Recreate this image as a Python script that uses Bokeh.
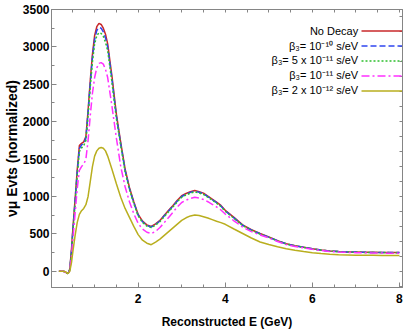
from bokeh.plotting import figure
from bokeh.models import (Range1d, LinearAxis, SingleIntervalTicker, Label,
                          Legend, LegendItem, CustomJSTickFormatter)
from bokeh.embed import file_html
from bokeh.resources import INLINE

# ---------------- data ----------------
energy = [0.18, 0.28, 0.33, 0.37, 0.40, 0.43, 0.47, 0.50, 0.55, 0.60,
          0.65, 0.70, 0.75, 0.80, 0.85, 0.90, 0.95, 1.00, 1.05, 1.10,
          1.15, 1.20, 1.25, 1.30, 1.40, 1.50, 1.60, 1.70, 1.80, 1.90,
          2.00, 2.10, 2.20, 2.30, 2.40, 2.50, 2.60, 2.70, 2.80, 2.90,
          3.00, 3.10, 3.20, 3.30, 3.40, 3.50, 3.60, 3.70, 3.80, 3.90,
          4.00, 4.20, 4.40, 4.60, 4.80, 5.00, 5.20, 5.40, 5.60, 5.80,
          6.00, 6.20, 6.40, 6.60, 6.80, 7.00, 7.20, 7.40, 7.60, 7.80,
          8.00]

no_decay = [0, 0, -10, -30, -20, 30, 300, 560, 950, 1350,
            1680, 1710, 1730, 1800, 2150, 2550, 2900, 3150, 3270, 3315,
            3300, 3250, 3170, 3040, 2600, 2100, 1720, 1370, 1120, 930,
            760, 670, 620, 600, 635, 680, 750, 815, 880, 950,
            1010, 1040, 1065, 1080, 1065, 1045, 1005, 965, 925, 880,
            815, 720, 620, 555, 505, 460, 410, 368, 342, 322,
            302, 285, 272, 264, 259, 257, 254, 253, 252, 251,
            250]

beta_1e10 = [0, 0, -10, -30, -20, 25, 280, 540, 930, 1320,
             1640, 1690, 1710, 1780, 2120, 2510, 2860, 3100, 3220, 3260,
             3250, 3200, 3120, 3000, 2560, 2070, 1700, 1350, 1105, 918,
             750, 662, 612, 592, 626, 672, 742, 806, 870, 940,
             1000, 1030, 1055, 1070, 1056, 1036, 997, 957, 917, 872,
             808, 713, 615, 551, 501, 456, 407, 366, 340, 320,
             300, 284, 271, 263, 258, 256, 253, 252, 251, 250,
             250]

beta_5e11 = [0, 0, -10, -30, -20, 20, 260, 520, 900, 1280,
             1600, 1650, 1680, 1750, 2080, 2460, 2800, 3040, 3150, 3190,
             3180, 3140, 3060, 2950, 2520, 2040, 1680, 1330, 1092, 906,
             740, 654, 604, 585, 617, 664, 733, 797, 861, 930,
             990, 1020, 1045, 1060, 1047, 1027, 990, 950, 910, 866,
             802, 708, 611, 548, 499, 454, 405, 365, 339, 319,
             299, 283, 270, 262, 257, 255, 252, 251, 250, 249,
             249]

beta_1e11 = [0, 0, -10, -30, -25, 10, 200, 420, 760, 1100,
             1350, 1400, 1430, 1500, 1750, 2080, 2380, 2590, 2720, 2780,
             2790, 2770, 2700, 2590, 2200, 1780, 1400, 1130, 930, 770,
             640, 565, 522, 505, 532, 585, 650, 720, 790, 860,
             920, 950, 975, 990, 978, 960, 930, 895, 860, 820,
             765, 675, 590, 530, 485, 445, 398, 358, 332, 312,
             293, 278, 265, 257, 252, 249, 246, 244, 243, 242,
             241]

beta_2e12 = [0, 0, -5, -25, -25, 0, 120, 260, 470, 650,
             760, 810, 840, 890, 1000, 1200, 1400, 1540, 1610, 1645,
             1655, 1645, 1610, 1540, 1360, 1170, 990, 840, 720, 600,
             490, 415, 375, 355, 390, 430, 480, 530, 580, 630,
             680, 715, 740, 753, 745, 730, 712, 690, 668, 650,
             628, 565, 505, 445, 392, 357, 328, 302, 282, 263,
             248, 237, 227, 220, 217, 214, 213, 213, 212, 212,
             212]

legend_labels = ["No Decay",
                 "\u03b2\u2083= 10\u207b\u00b9\u2070 s/eV",
                 "\u03b2\u2083= 5 x 10\u207b\u00b9\u00b9 s/eV",
                 "\u03b2\u2083= 10\u207b\u00b9\u00b9 s/eV",
                 "\u03b2\u2083= 2 x 10\u207b\u00b9\u00b2 s/eV"]

x_label = "Reconstructed E (GeV)"
y_label = "\u03bd\u03bc Evts (normalized)"

# ---------------- figure ----------------
FONT = "Liberation Sans"
GRAY = "#858585"

p = figure(width=407, height=331, output_backend="svg", toolbar_location=None,
           x_range=Range1d(0.01, 8.07), y_range=Range1d(-217, 3500),
           min_border_left=45, min_border_right=5, min_border_top=9,
           min_border_bottom=42)
p.background_fill_color = "white"
p.border_fill_color = "white"
p.outline_line_color = GRAY
p.xgrid.grid_line_color = None
p.ygrid.grid_line_color = None

p.xaxis.ticker = SingleIntervalTicker(interval=2, num_minor_ticks=4)
p.yaxis.ticker = SingleIntervalTicker(interval=500, num_minor_ticks=2)

for ax in (p.xaxis[0], p.yaxis[0]):
    ax.axis_line_color = GRAY
    ax.major_tick_line_color = GRAY
    ax.minor_tick_line_color = GRAY
    ax.major_tick_in = 5
    ax.major_tick_out = 0
    ax.minor_tick_in = 3
    ax.minor_tick_out = 0
    ax.major_label_text_font = FONT
    ax.major_label_text_font_style = "bold"
    ax.major_label_text_font_size = "12px"
    ax.major_label_text_color = "black"
    ax.axis_label_text_font = FONT
    ax.axis_label_text_font_style = "bold"
    ax.axis_label_text_color = "black"

p.yaxis.major_label_standoff = 2
p.yaxis.axis_label = y_label
p.yaxis.axis_label_text_font_size = "14px"
p.yaxis.axis_label_standoff = 0

p.xaxis.major_label_standoff = 6
p.xaxis.axis_label = x_label
p.xaxis.axis_label_text_font_size = "12px"
p.xaxis.axis_label_standoff = 9

blank = CustomJSTickFormatter(code="return ''")
top_ax = LinearAxis(ticker=SingleIntervalTicker(interval=0.5, num_minor_ticks=0),
                    formatter=blank, major_label_text_font_size="0px",
                    major_label_standoff=0, major_tick_in=3, major_tick_out=0,
                    axis_line_color=GRAY, major_tick_line_color=GRAY)
right_ax = LinearAxis(ticker=SingleIntervalTicker(interval=200, num_minor_ticks=0),
                      formatter=blank, major_label_text_font_size="0px",
                      major_label_standoff=0, major_tick_in=3, major_tick_out=0,
                      axis_line_color=GRAY, major_tick_line_color=GRAY)
p.add_layout(top_ax, "above")
p.add_layout(right_ax, "right")

# ---------------- curves ----------------
series = [
    (no_decay, "#c8282a", "solid"),
    (beta_1e10, "#2f45f0", "6 3"),
    (beta_5e11, "#2dbf2d", "2 2"),
    (beta_1e11, "#ff30ff", "8 3 2 3"),
    (beta_2e12, "#b9ae1e", "solid"),
]
renderers = []
for ys, col, dash in series:
    r = p.line(energy, ys, line_color=col, line_width=1.5, line_dash=dash)
    renderers.append(r)

# ---------------- legend (text left, line sample right) ----------------
legend = Legend(items=[LegendItem(label=" ", renderers=[r]) for r in renderers],
                location=(310, 189), orientation="vertical",
                glyph_width=45, glyph_height=15, label_height=15, label_width=0,
                label_standoff=0, spacing=0, padding=0, margin=0,
                border_line_color=None, background_fill_alpha=0,
                label_text_font_size="1px")
p.add_layout(legend)

row_y = [256.7, 241.7, 227.3, 212.3, 198.0]
for txt, yy in zip(legend_labels, row_y):
    p.add_layout(Label(x=306.7, y=yy, x_units="screen", y_units="screen",
                       text=txt, text_align="right", text_baseline="middle",
                       text_font=FONT, text_font_size="11px",
                       text_color="black"))

open("out.html", "w").write(file_html(p, INLINE))
